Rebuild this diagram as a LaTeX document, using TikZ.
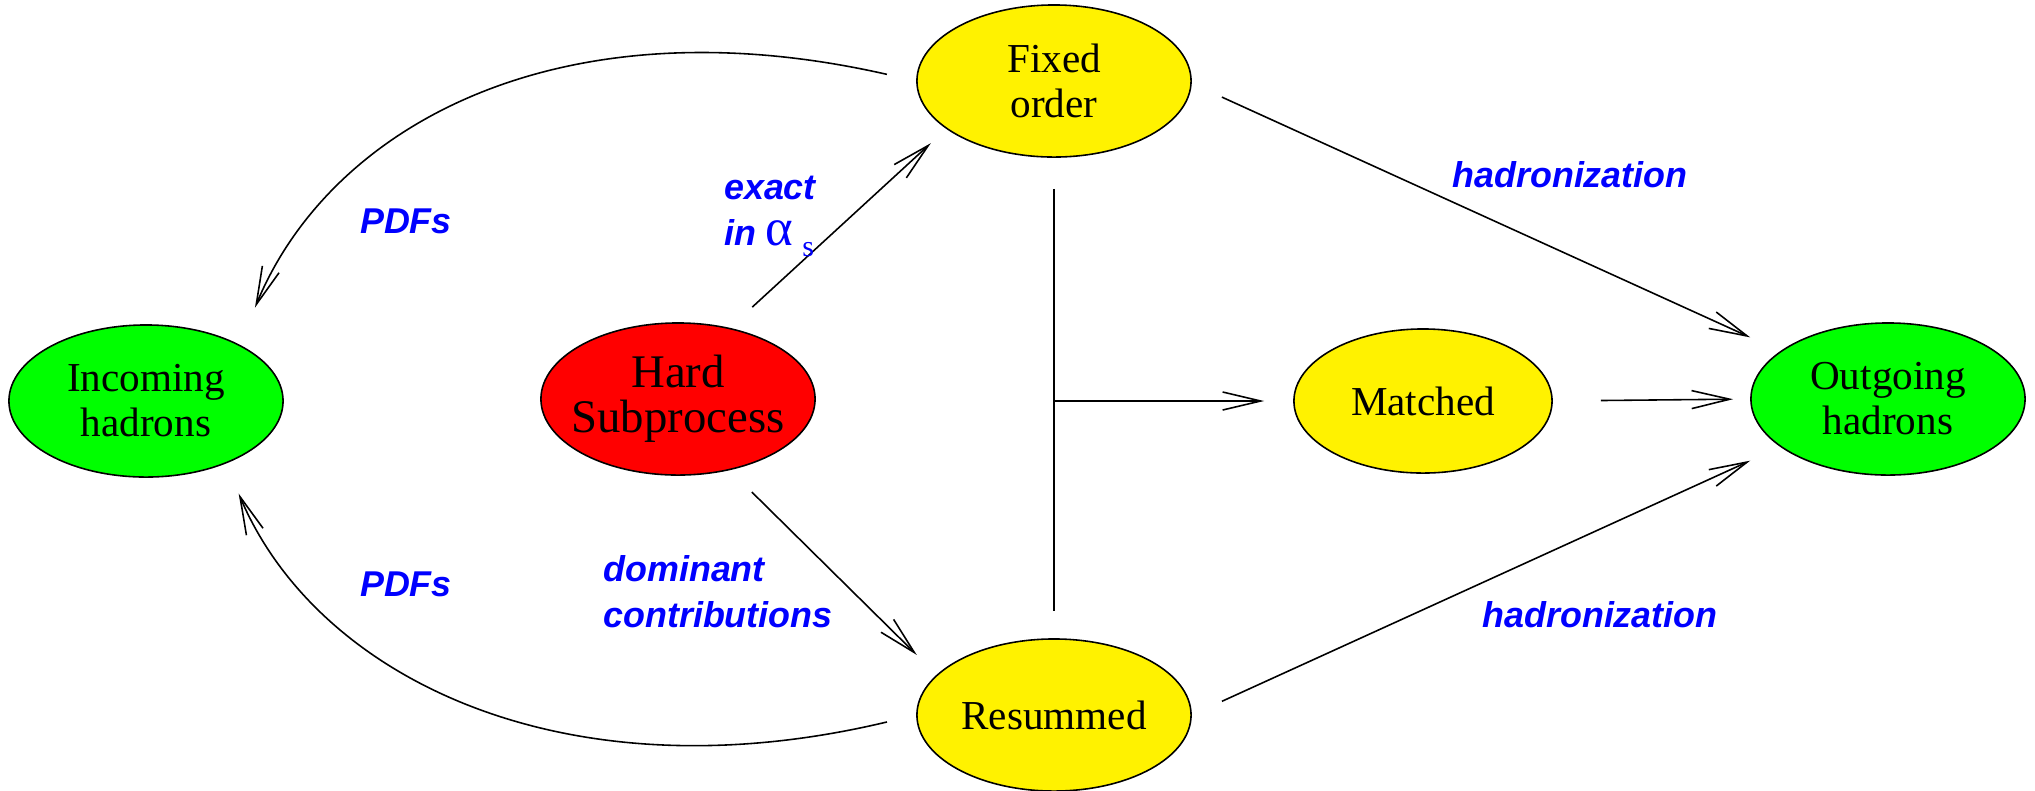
\documentclass[tikz,border=0pt]{standalone}
\usepackage{fontspec}
\setmainfont{Liberation Serif}
\setsansfont{Liberation Sans}
\usetikzlibrary{positioning,arrows.meta,calc,shapes}
\tikzset{
    blob/.style = {
        draw,
        shape=ellipse,
        minimum width=2.74cm,
        minimum height=1.52cm,
        inner sep=0pt,
        line width=0.45pt,
        align=center,
        font=\fontsize{11.7}{12.8}\selectfont
    },
    hadronblob/.style = {
        blob,
        fill=green
    },
    hardblob/.style = {
        blob,
        fill=red,
        inner xsep=-1.6mm,
        inner ysep=-1mm,
        font=\fontsize{13.3}{12.8}\selectfont
    },
    orderblob/.style = {
        blob,
        fill=yellow
    },
    annot/.style = {
        text=blue,
        inner sep=0pt,
        align=left,
        font=\fontsize{10.2}{13.1}\sffamily\bfseries\itshape\selectfont
    },
    >={Straight Barb[length=3.8mm,width=1.8mm]},
}

\begin{document}
\begin{tikzpicture}[x=0.01cm, y=-0.01cm, line width=0.45pt]
    \useasboundingbox (0,0) rectangle (2035,790);

    \node[hadronblob] (incoming) at (146,401) {Incoming\\hadrons};
    \node[hardblob] (hard) at (678,399) {Hard\\Subprocess};
    \node[orderblob] (fixed) at (1054,81) {Fixed\\order};
    \node[orderblob] (resummed) at (1054,715) {Resummed};
    \node[orderblob, minimum width=2.58cm, minimum height=1.44cm] (matched) at (1423,401) {Matched};
    \node[hadronblob] (outgoing) at (1888,399) {Outgoing\\hadrons};

    \coordinate (tee) at (fixed.south |- matched.west);

    \path[draw, ->, shorten <=3.05mm, shorten >=2.1mm] (hard.54) -- (fixed.204);
    \path[draw, ->, shorten <=3.1mm, shorten >=2.8mm] (hard.306.6) -- (resummed.161.5);
    \path[draw, ->, shorten <=3.3mm, shorten >=3.3mm] (fixed.359) -- (outgoing.156.8);
    \path[draw, ->, shorten <=3.3mm, shorten >=3.3mm] (resummed.0) -- (outgoing.204.3);
    \path[draw, ->, shorten <=4.8mm, shorten >=1.7mm] (matched.east) -- (outgoing.west);

    \path[draw, shorten <=3.1mm, shorten >=2.7mm] (fixed.south) -- (resummed.north);
    \path[draw, ->, shorten >=2.9mm] (tee) -- (matched.west);

    \path[draw, ->, shorten <=3mm, shorten >=4mm] (fixed.west) .. controls (560,0) and (330,125) .. (incoming.31);
    \path[draw, ->, shorten <=3mm, shorten >=3.25mm] (resummed.west) .. controls (560,800) and (315,675) .. (incoming.-38);

    \node[annot] (pdfsin) at (406,221) {PDFs};
    \node[annot] (pdfsout) at (406,584) {PDFs};
    \node[annot] (exact) at (770,216) {exact\\in {\rmfamily\mdseries\upshape\fontsize{15}{15}\selectfont α\,\raisebox{-0.45ex}{\fontsize{8.5}{8.5}\selectfont s}}};
    \node[annot] (dominant) at (718,592) {dominant\\contributions};
    \node[annot] (hadrtop) at (1570,175) {hadronization};
    \node[annot] (hadrbot) at (1600,615) {hadronization};
\end{tikzpicture}
\end{document}
